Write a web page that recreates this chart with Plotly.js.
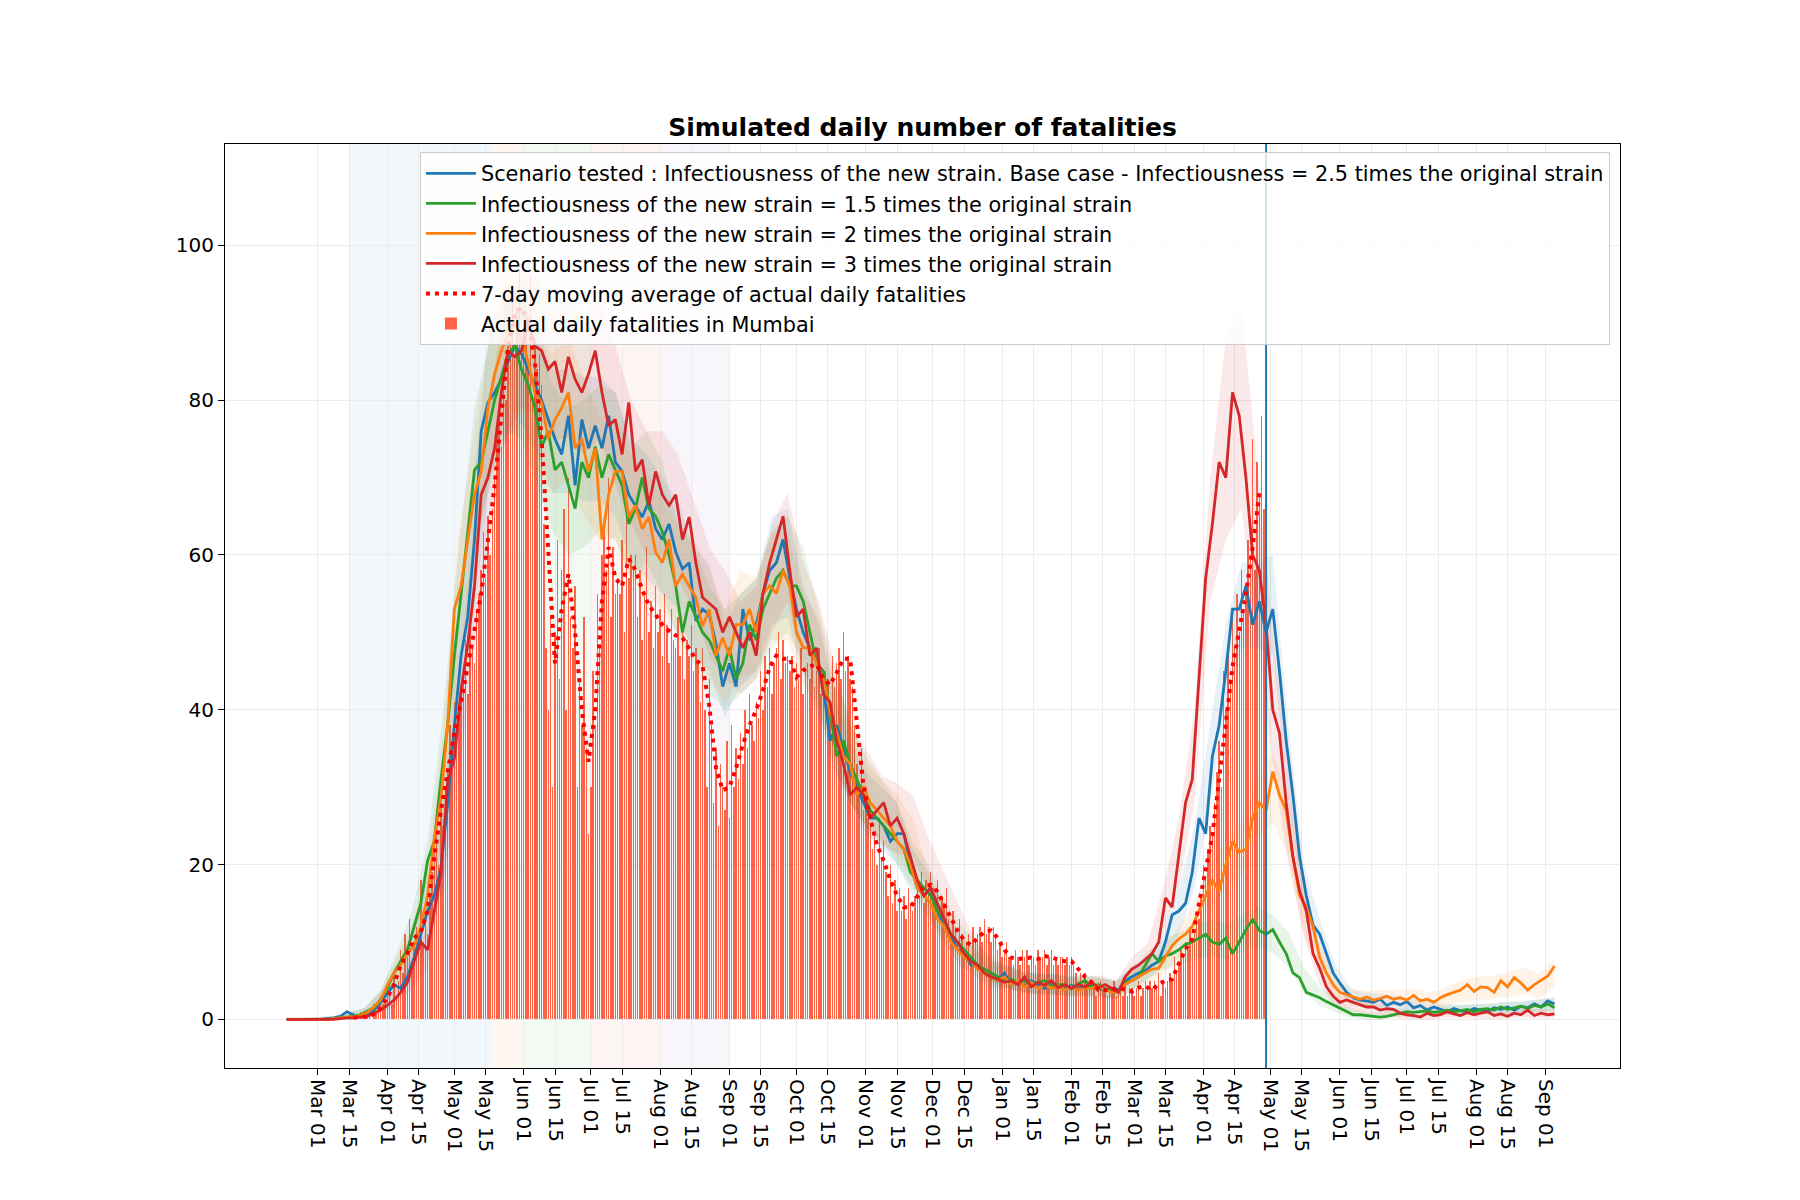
<!DOCTYPE html>
<html><head><meta charset="utf-8">
<script src="https://cdn.plot.ly/plotly-3.0.1.min.js"></script>
<style>html,body{margin:0;padding:0;background:#fff}</style>
</head><body><div id="chart" style="width:1800px;height:1200px"></div>
<script>
// Day offsets are counted from 2020-03-01
const simStartDay = -14, simStepDays = 3;
const bandStartDay = -14, bandStepDays = 7;
const maStartDay = 16, maStepDays = 3;
const barStartDay = 16;

const seriesNames = [
  'Scenario tested : Infectiousness of the new strain. Base case - Infectiousness = 2.5 times the original strain',
  'Infectiousness of the new strain = 1.5 times the original strain',
  'Infectiousness of the new strain = 2 times the original strain',
  'Infectiousness of the new strain = 3 times the original strain'
];
const maName = '7-day moving average of actual daily fatalities';
const barName = 'Actual daily fatalities in Mumbai';

const simBlue = [0,0,0,0,0,0,0.1,0.2,0.4,1.0, 0.5,0.3,0.6,1.2,2.2,
 3.3,4.5,4,5.5,8,11,14,16,19.6,27.8,38,47,52,62,76,79.7,81,82.7,85,87,86,84,82,80,77.5,75,73,78,69,77.5,73.8,76.7,73.8,78,72,70.8,67.8,66.4,64.9,67,63.4,62,64,60.4,58.2,59,51.5,53,52.3,48.5,43,
 46,43,53,49,51,55,58,59,62,57,53,50,48,46,43,36,38,35,32,30,28,26,26,25,23,24,24,20,17,16,17,14,12,11,9,8.5,7,7,6,5.5,5,6,4.5,5,4.3,5,4.5,4,4.8,4.2,4,4.4,4,4.2,4.5,4,3.8,4,3.8,5,
 5.5,6,6.3,7,7.5,10,13.5,14,15,19,26,24,34,38,45,53,53,56,51,54,50,53,45,36,29,21,16,12.2,11,8.5,6,4.7,3.5,2.8,2.5,2.4,2.2,2.6,1.8,2.2,1.9,2.3,1.5,1.8,1.2,1.6,1.3,1.0,1.4,1.1,1.0,1.4,1.2,1.0,1.5,1.3,1.6,1.2,1.7,1.5,2,1.6,2.4,2.0];
const simGreen = [0,0,0,0,0,0,0,0.1,0.2,0.3, 0.4,0.6,1,1.5,2.6,
 4,6,7.5,9,12,15,20.5,23,31,38,47,55,63,71,72,76,80,83,86,87,84,82,79,74,76,71,72,69,66,72,70,74,70,73,71,69,64,66,70,66,65,63,60,56,50,54,52,50,49,47,45,
 48,44,46,51,49,53,55,57,58,56,56,54,50,46,45,40,34,36,33,31,29,27,26,25,24,23,22,19,18,17,16,14,13,11,10,9,8,7,6.5,6,5.5,5,5.2,4.8,5,4.5,4.8,5,4.2,4.5,4.5,4,4.6,5,4.2,4.5,4,3.6,3.5,4.8,
 5,5.5,7,8.5,7.5,8.2,8.5,9,9.7,10,10.5,11,10,9.7,10.5,8.5,10,11.6,12.9,11.5,11,11.6,10,8.5,6,5.4,3.5,3.2,2.8,2.3,1.9,1.5,1.0,0.6,0.6,0.5,0.4,0.3,0.4,0.6,0.8,1,0.9,1.0,1.1,0.9,1.0,1.2,1.0,1.1,1.3,1.0,1.3,1.4,1.2,1.6,1.3,1.5,1.7,1.4,1.8,1.6,2.0,1.5];
const simOrange = [0,0,0,0,0,0,0,0.1,0.2,0.3, 0.3,0.5,0.9,1.6,2.5,
 4.4,6,7,8.5,9.5,12,15.9,23.3,28.5,38,53,56,62,67.8,70.8,79,83.4,86.4,88.6,90,88,85,81,79.7,75,77.5,79,81,73.8,75,70.8,73.8,62,67.8,70.8,70.8,64.9,66.4,63.4,64.9,60.4,59,62,56,57.5,56,54.5,50.8,53,47,49.3,
 47,51,51,53,50,55,56,55,58,56,50,48,48,46,44,40,37,34,33,29,30,28,27,26,25,23,22,20,17,16,15,13,12,10,9,8,7.5,6.5,6,5.5,5,5.5,4.5,5,4.2,4.8,4,4.5,4,4.3,3.8,4.2,3.8,4,4,4.3,3.8,3.5,3.6,4.5,
 5,5.4,6,6.5,6.6,8,9.5,10.4,11,12,14,16,18,16.6,20,23,21.6,22,26,28,27,32,29,27,21,16,14.5,12,8,6,4.5,3.5,3.2,2.8,2.6,2.9,2.5,2.7,3,2.6,2.8,2.5,3.1,2.4,2.6,2.2,2.8,3.2,3.5,3.8,4.5,3.6,4.2,4.1,3.5,5,4.2,5.4,4.7,3.8,4.5,5,5.6,6.9];
const simRed = [0,0,0,0,0,0,0,0,0.1,0.2, 0.2,0.3,0.4,0.8,1.2,
 1.8,2.5,3.5,4.8,7.5,10,9,13.7,18.9,30.7,33.7,42.6,48.5,56,67.8,70,73.8,81,86.4,85.6,86.4,90,87,86.4,84,85,81,85.6,82.7,81,83.4,86.4,81,76.7,77.5,73,79.7,70.8,72.3,66.4,70.8,67.8,66.4,67.8,62,64.9,59,54.5,53.8,53,50,
 52,50,48,50,47,55,59,62,65,58,52,53,47,48,42,41,36,33,29,30,29,26,27,28,25,26,24,21,18,16,17,15,13,11,10,8.5,7.5,7,6,5.5,5.2,4.8,5,4.5,5.5,4.2,4.8,4.4,5,4.1,4.5,4,4.5,4.2,4.8,4.1,4.5,4,3.5,5.5,
 6.5,7,7.8,8.5,10,15.7,14.5,21,28,31,44,57,64,72,70,81,78,70,60,58,51,40,37,28,21,16.6,14,8.5,6.6,4.2,3,2.2,2.5,2.2,1.8,1.6,1.6,1.2,1.4,1.3,0.8,0.6,0.5,0.3,0.8,0.5,0.6,1,0.7,0.5,0.9,0.6,0.8,1,0.5,0.7,0.4,0.8,0.6,1.2,0.5,0.8,0.6,0.7];

const bandBlueLo = [0,0,0,0,0,0,1,3,5,10,17,36,53,70,75,77,73,68,68,67,67,65,59,57,55,53,47,45,39,43,45,51,52,44,39,32,28,24,22,20,16,13,10,7,5.5,4,4,3.5,3.2,3.2,3,3,2.8,2.7,4,5,7,11,17,28,40,48,48,47,28,14,9,4,2,1.5,1.4,1.2,1,0.8,0.7,0.6,0.7,0.7,0.8,0.9,1,1.2];
const bandBlueHi = [0.2,0.2,0.3,0.5,1,1.5,3.5,7,11,19,28,52,71,90,93,95,89,84,84,83,83,81,75,73,70,67,61,59,51,55,57,65,66,56,51,42,36,32,30,28,22,19,14,11,9,7,7,6.3,6,6,5.6,5.6,5.3,5.1,7,8,11,17,25,38,51,59,59,60,38,20,13,7,4,3.4,3.3,3.0,2.6,2.3,2.0,1.8,1.9,2.0,2.2,2.3,2.6,2.9];
const bandGreenLo = [0,0,0,0,0,0.2,1.2,4,8,13,25,44,61,69,76,75,69,63,60,61,63,62,57,59,55,49,46,42,40,42,44,48,50,46,40,33,28,25,23,20,17,14,10.5,8,6.3,4.6,4.2,3.6,3.4,3.3,3.1,3.3,3,2.7,3.7,5.3,6.4,7,7.8,8.2,7.8,8.7,9.5,8.6,6.8,3.4,1.8,0.9,0.2,0,0,0.3,0.4,0.4,0.5,0.6,0.6,0.7,0.7,0.8,0.9,0.9];
const bandGreenHi = [0.2,0.2,0.3,0.4,0.8,1.5,3.8,8.5,14,23,40,61,79,88,95,94,88,82,79,80,82,81,74,76,72,64,61,56,53,55,57,63,65,61,53,44,39,34,31,28,23,20,15.5,12.5,10,7.6,7,6.1,5.9,5.8,5.5,5.8,5.4,4.9,6.4,8.8,10.3,11.2,12.3,12.9,12.3,13.4,14.6,13.5,11.3,6.6,4.2,2.7,1.5,0.9,1,1.5,1.6,1.6,1.7,1.9,2,2.1,2.3,2.4,2.5,2.7];
const bandOrangeLo = [0,0,0,0,0,0.2,1.2,3.5,6.5,11,24,47,58,71,79,78,71,68,70,65,62,62,57,55,53,50,48,44,41,44,45,49,49,43,40,33,28,25,23,21,18,13,9.5,7,5.6,4.4,3.9,3.3,3.1,3,2.9,2.8,2.9,2.5,3.7,4.5,5.8,8,10,14,17,18.5,23,25.5,21,11,6,2.8,1.7,1.5,1.6,1.6,1.6,1.3,1.6,2.2,2.5,2.6,2.9,3.3,2.7,4.2];
const bandOrangeHi = [0.2,0.2,0.3,0.4,0.8,1.5,3.8,8,12,20,37,63,76,89,97,96,89,86,88,83,78,78,73,71,67,64,62,58,53,58,57,63,63,55,52,43,38,33,31,29,26,19,14.5,11,9,7.6,6.7,5.9,5.5,5.4,5.3,5.2,5.3,4.7,6.3,7.5,9.2,12,15,20,23,25.5,31,34.5,29,17,10,5.2,3.9,3.7,3.8,3.8,4,3.5,4,5,5.5,5.6,6.1,6.7,5.9,7.8];
const bandRedLo = [0,0,0,0,0,0.1,0.6,1.8,4,6.5,17,31,48,63,75,79,78,75,75,73,75,69,64,60,60,57,53,47,44,42,44,50,54,45,42,34,28,25,22.5,21.5,21,16.5,13,9.5,6.7,5,4.1,3.5,3.2,3.2,3,3.1,3.1,2.6,5,6.2,11,17,28,54,62,66,50,33,20,10.5,4.5,1.5,1.1,0.7,0.5,0.1,0,0,0.2,0.2,0.1,0,0.1,0.2,0.1,0.1];
const bandRedHi = [0.2,0.2,0.3,0.3,0.6,0.9,2,4,8,12,27,45,64,81,93,97,96,93,93,91,93,87,80,76,76,73,67,61,58,54,56,64,68,59,54,46,38,35,31.5,30.5,29,23.5,19,14.5,10.3,8,6.9,6.1,5.8,5.8,5.4,5.5,5.7,5,8,9.8,17,26,40,70,88,92,72,50,32,18,9,4,2.9,2.3,1.9,1.3,1,1.2,1.4,1.4,1.3,1.2,1.3,1.4,1.3,1.3];

const movingAvg = [0.2,0.4,0.3,0.7,1.5,2.8,4.5,7,8.5,10.5,
 11.3,14,21,27,32,37,41,45.5,50,55,
 61.9,69,78,87,91,92,90,85,75,60.4,
 46,53,57.5,50,40,33.3,40,54,61,57,
 56,59.5,58,55.5,53.5,52.3,51,50.2,49.6,49.3,
 48,46.5,45.6,40.5,32.5,29.6,30,32.5,35.5,38,
 40,42.5,45.5,47,46.6,46.6,44.2,45.1,45.6,45.9,
 44,43.2,44.8,46.6,46.6,38,30,26,22.5,20.5,
 18,16,14.5,14.5,15.8,17.2,17.4,16.5,14.8,13,
 11.5,10.2,9.6,10.5,11.3,11.5,10.5,9,8,7.8,
 7.9,8,7.8,8.2,8,7.8,7.5,7.5,6.5,5.5,
 4.8,3.8,3.8,3.8,4.1,3.8,3.6,4.1,4.3,3.8,
 4.6,5,5.2,7.2,9,10.4,15,19.5,23.8,31,
 38.5,45.5,50.3,55,61,68];

const dailyDeaths = [
 1,0,0,1,0,0,1, 1,0,2,1,1,3,2, 2,3,5,2,6,3,5, 9,6,11,8,13,7,10, 12,9,18,10,14,11,16,
 19,24,27,20,29,25,30, 32,38,34,41,35,40,43, 44,49,42,51,48,46,53, 55,58,63,57,65,60,66,
 70,76,79,74,84,80,87, 89,95,86,92,97,88,90, 91,85,96,80,88,84,86, 82,64,48,40,52,30,50,
 62,44,58,66,40,70,52, 48,56,30,44,38,52,35, 24,30,45,38,55,48,60, 64,58,70,52,61,55,57,
 55,62,50,66,57,60,58, 60,52,58,49,55,61,50, 54,48,56,50,53,47,55, 51,46,53,49,48,52,47,
 50,44,49,47,51,45,48, 46,41,48,40,30,44,38, 28,35,25,33,30,27,36, 26,38,30,35,31,37,33,
 40,35,42,38,36,41,39, 45,40,47,43,48,42,46, 48,50,44,49,46,47,45, 47,43,46,44,48,42,45,
 46,44,47,43,45,48,42, 42,45,44,40,47,43,46, 48,44,50,45,47,44,43, 38,33,29,35,27,30,26,
 25,22,24,20,26,21,23, 19,16,20,15,18,14,17, 14,16,13,17,15,14,16, 18,16,19,15,18,17,19,
 17,15,18,14,16,15,17, 13,11,14,12,10,13,11, 9,10,11,8,12,10,11, 12,10,13,11,12,10,12,
 11,9,10,8,9,10,8, 8,7,9,8,7,9,8, 9,7,8,8,7,9,8, 8,9,7,8,9,7,8, 7,8,8,7,8,7,8,
 7,6,5,6,5,6,5, 4,5,4,3,4,5,4, 4,3,4,4,5,3,4, 4,3,5,3,4,4,3, 4,5,3,4,5,4,5,
 4,5,4,6,3,5,4, 5,6,5,8,6,7,9, 8,10,9,12,10,11,13, 13,16,20,18,22,25,24,
 28,32,36,30,45,40,47, 44,52,48,55,50,58,53, 56,62,60,75,58,72,68, 78,66];

const tickDates = ['2020-03-01','2020-03-15','2020-04-01','2020-04-15','2020-05-01','2020-05-15','2020-06-01','2020-06-15','2020-07-01','2020-07-15','2020-08-01','2020-08-15','2020-09-01','2020-09-15','2020-10-01','2020-10-15','2020-11-01','2020-11-15','2020-12-01','2020-12-15','2021-01-01','2021-01-15','2021-02-01','2021-02-15','2021-03-01','2021-03-15','2021-04-01','2021-04-15','2021-05-01','2021-05-15','2021-06-01','2021-06-15','2021-07-01','2021-07-15','2021-08-01','2021-08-15','2021-09-01'];
const tickLabels = ['Mar 01','Mar 15','Apr 01','Apr 15','May 01','May 15','Jun 01','Jun 15','Jul 01','Jul 15','Aug 01','Aug 15','Sep 01','Sep 15','Oct 01','Oct 15','Nov 01','Nov 15','Dec 01','Dec 15','Jan 01','Jan 15','Feb 01','Feb 15','Mar 01','Mar 15','Apr 01','Apr 15','May 01','May 15','Jun 01','Jun 15','Jul 01','Jul 15','Aug 01','Aug 15','Sep 01'];
const yTicks = [0,20,40,60,80,100];

// phase shading and marker (styling/positions)
const spanStarts = ['2020-03-15','2020-05-18','2020-06-01','2020-07-01','2020-08-01'];
const spanEnds   = ['2020-05-18','2020-06-01','2020-07-01','2020-08-01','2020-09-01'];
const spanColors = ['rgba(31,119,180,0.06)','rgba(255,127,14,0.06)','rgba(44,160,44,0.06)','rgba(214,39,40,0.05)','rgba(148,103,189,0.06)'];
const markerDate = '2021-04-29';

const lineColors = ['#1f77b4','#2ca02c','#ff7f0e','#d62728'];
const bandColors = ['rgba(31,119,180,0.1)','rgba(44,160,44,0.1)','rgba(255,127,14,0.1)','rgba(214,39,40,0.1)'];

function dayToDate(d){ return new Date(Date.UTC(2020,2,1) + d*86400000).toISOString().slice(0,10); }
function grid(start, step, n){ const out=[]; for(let i=0;i<n;i++) out.push(dayToDate(start+i*step)); return out; }

const simX = grid(simStartDay, simStepDays, simBlue.length);
const bandX = grid(bandStartDay, bandStepDays, bandBlueLo.length);
const maX = grid(maStartDay, maStepDays, movingAvg.length);
const barX = grid(barStartDay, 1, dailyDeaths.length);

const sims = [simBlue, simGreen, simOrange, simRed];
const bandsLo = [bandBlueLo, bandGreenLo, bandOrangeLo, bandRedLo];
const bandsHi = [bandBlueHi, bandGreenHi, bandOrangeHi, bandRedHi];

const traces = [];
traces.push({type:'bar', x:barX, y:dailyDeaths, name:barName, width:0.65*86400000,
  marker:{color:'#ff6347', line:{width:0}}, legendrank:6, legendgroup:'g6', hoverinfo:'skip'});
for(let i=0;i<4;i++){
  traces.push({type:'scatter', mode:'lines', x:bandX.concat(bandX.slice().reverse()),
    y:bandsHi[i].concat(bandsLo[i].slice().reverse()), fill:'toself', fillcolor:bandColors[i],
    line:{width:0}, showlegend:false, hoverinfo:'skip'});
}
for(let i=0;i<4;i++){
  traces.push({type:'scatter', mode:'lines', x:simX, y:sims[i], name:seriesNames[i],
    line:{color:lineColors[i], width:2.8}, legendrank:i+1, legendgroup:'g'+(i+1)});
}
traces.push({type:'scatter', mode:'lines', x:maX, y:movingAvg, name:maName,
  line:{color:'#ff0000', width:4, dash:'4px,5px'}, legendrank:5, legendgroup:'g5'});

const shapes = spanStarts.map((s,i)=>({type:'rect', xref:'x', yref:'paper', x0:s, x1:spanEnds[i], y0:0, y1:1,
  fillcolor:spanColors[i], line:{width:0}, layer:'below'}));
shapes.push({type:'line', xref:'x', yref:'paper', x0:markerDate, x1:markerDate, y0:0, y1:1,
  line:{color:'#1f77b4', width:2}, layer:'above'});

const FONT = 'DejaVu Sans';
const layout = {
  width:1800, height:1200,
  paper_bgcolor:'#ffffff', plot_bgcolor:'#ffffff',
  font:{family:FONT, color:'#000000', size:20},
  margin:{l:225, r:180, t:144, b:132, pad:0},
  title:{text:'<b>Simulated daily number of fatalities</b>', font:{family:FONT, size:25, color:'#000'},
    x:0.5, xref:'paper', xanchor:'center', y:0.894, yref:'container', yanchor:'middle'},
  showlegend:true,
  legend:{x:0.9928, y:0.991, xanchor:'right', yanchor:'top', bgcolor:'rgba(255,255,255,0.8)',
    bordercolor:'#cccccc', borderwidth:1, font:{family:FONT, size:20.8, color:'#000'},
    tracegroupgap:6, traceorder:'normal', itemwidth:50},
  bargap:0,
  xaxis:{type:'date', range:['2020-01-19 10:00','2021-10-04 07:00'], tickmode:'array',
    tickvals:tickDates, ticktext:tickLabels, tickangle:90, ticks:'outside', ticklen:6, tickwidth:1,
    tickcolor:'#000', showline:true, linecolor:'#000', linewidth:1, mirror:true,
    showgrid:true, gridcolor:'#ebebeb', gridwidth:1, zeroline:false,
    tickfont:{family:FONT, size:20, color:'#000'}},
  yaxis:{range:[-6.28,113.1], tickmode:'array', tickvals:yTicks, ticks:'outside', ticklen:6, tickwidth:1,
    tickcolor:'#000', showline:true, linecolor:'#000', linewidth:1, mirror:true,
    showgrid:true, gridcolor:'#ebebeb', gridwidth:1, zeroline:false,
    tickfont:{family:FONT, size:20, color:'#000'}},
  shapes:shapes
};
Plotly.newPlot('chart', traces, layout, {staticPlot:true, displayModeBar:false});
</script></body></html>
